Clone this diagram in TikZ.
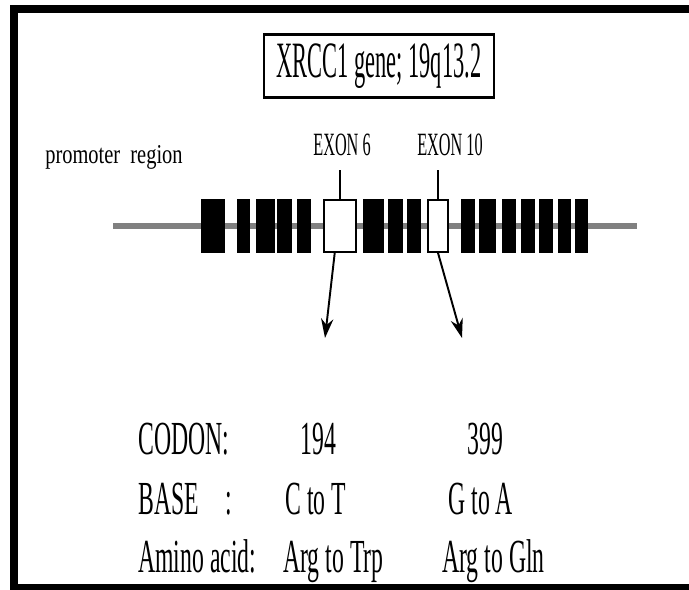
\documentclass[tikz,border=0pt]{standalone}
\usepackage{fontspec}
\setmainfont[FakeStretch=0.5]{Liberation Serif}
\newfontfamily\ttlfont[FakeStretch=0.44]{Liberation Serif}
\newfontfamily\smlfont[FakeStretch=0.75]{Liberation Serif}
\usetikzlibrary{arrows.meta,positioning}

\begin{document}
\begin{tikzpicture}[x=0.02cm,y=-0.02cm,>={Stealth[length=11pt,width=7pt]},
  blk/.style={fill=black,minimum height=30.6pt,inner sep=0},
  wex/.style={draw,fill=white,line width=1.1pt,minimum height=29.5pt,inner sep=0},
  row/.style={font=\fontsize{27}{30}\selectfont,inner sep=0,anchor=base west},
  exl/.style={font=\fontsize{18.5}{20}\selectfont,inner sep=0,anchor=base}]
  \useasboundingbox (0,0) rectangle (689,590);
  % frame
  \draw[line width=4.5pt] (14,590) -- (14,9) -- (689,9);
  \draw[line width=3.4pt] (10,587) -- (689,587);
  % title
  \node[draw,line width=1.5pt,minimum width=131pt,minimum height=36pt,inner sep=0]
    (ttl) at (379,66) {\ttlfont\fontsize{29}{30}\selectfont XRCC1 gene; 19q13.2};
  \node[font=\smlfont\fontsize{15.5}{17}\selectfont,inner sep=0,anchor=base west]
    (prm) at (45,164) {promoter\ \ region};
  % gene
  \coordinate (g0) at (113,226);
  \coordinate (g1) at (637,226);
  \draw[line width=3pt,black!50] (g0) -- (g1);
  \foreach \a/\b [count=\i] in {201/225,237/250,256/275,277/292,297/311,
      363/384,388/403,407/421,461/475,479/496,502/516,521/535,539/553,
      558/571,575/588}
    \node[blk,minimum width={(\b-\a)*0.5669pt}] (b\i) at ({(\a+\b)/2},226) {};
  \node[wex,minimum width=18.5pt] (w6) at (340,226) {};
  \node[wex,minimum width=11.8pt] (w10) at (438,226) {};
  \node[exl] (l6) at (342,156) {EXON 6};
  \node[exl] (l10) at (450,156) {EXON 10};
  \draw[line width=1.1pt] (w6.north) -- ++(0,-29);
  \draw[line width=1.1pt] (w10.north) -- ++(0,-29);
  % arrows
  \coordinate (t6) at (325,338);
  \coordinate (t10) at (462,338);
  \draw[->,line width=1.1pt] ([xshift=-3pt]w6.south) -- (t6);
  \draw[->,line width=1.1pt] (w10.south) -- (t10);
  % table
  \node[row] (cod) at (138,455) {CODON:};
  \node[row] (c6) at (300,455) {194};
  \node[row] (c10) at (467,455) {399};
  \node[row] (bas) at (138,515) {BASE\hspace{15pt}:};
  \node[row] (s6) at (285,515) {C to T};
  \node[row] (s10) at (448,515) {G to A};
  \node[row] (ami) at (138,572) {Amino acid:};
  \node[row] (a6) at (283,572) {Arg to Trp};
  \node[row] (a10) at (442,572) {Arg to Gln};
\end{tikzpicture}
\end{document}
